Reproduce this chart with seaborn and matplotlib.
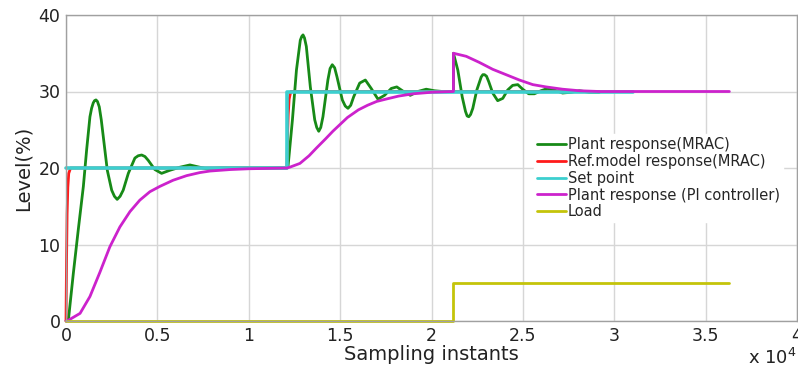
import matplotlib
matplotlib.use("Agg")
import matplotlib.pyplot as plt
import pandas as pd
import seaborn as sns

# sampling instants are in units of 1e4 (see the "x 10^4" note)
mrac_x = [0.0, 0.013, 0.040, 0.067, 0.095, 0.113, 0.131, 0.140, 0.149, 0.156, 0.164, 0.172,
          0.182, 0.193, 0.204, 0.226, 0.250, 0.265, 0.280, 0.296, 0.313, 0.341, 0.377, 0.395,
          0.414, 0.432, 0.450, 0.486, 0.523, 0.568, 0.623, 0.678, 0.732, 0.769, 0.85, 1.209,
          1.215, 1.239, 1.261, 1.282, 1.290, 1.297, 1.305, 1.315, 1.337, 1.361, 1.372, 1.383,
          1.394, 1.406, 1.433, 1.445, 1.457, 1.470, 1.483, 1.512, 1.528, 1.543, 1.558, 1.574,
          1.607, 1.638, 1.670, 1.707, 1.743, 1.780, 1.810, 1.847, 1.884, 1.925, 1.971, 2.016,
          2.06, 2.12,
          2.12, 2.144, 2.168, 2.186, 2.195, 2.204, 2.214, 2.226, 2.248, 2.272, 2.281, 2.290,
          2.301, 2.313, 2.335, 2.362, 2.390, 2.417, 2.444, 2.472, 2.499, 2.532, 2.563, 2.599,
          2.636, 2.672, 2.717, 2.763, 2.809, 2.863, 2.918]
mrac_y = [0.0, 0.1, 6.2, 11.9, 17.6, 22.4, 26.7, 27.8, 28.5, 28.8, 28.9, 28.7,
          28.0, 26.3, 24.1, 19.7, 17.1, 16.3, 15.9, 16.3, 17.1, 19.3, 21.3, 21.6,
          21.7, 21.5, 21.0, 19.8, 19.3, 19.7, 20.1, 20.4, 20.1, 19.9, 20.0, 20.0,
          20.2, 26.3, 32.8, 36.7, 37.2, 37.4, 37.0, 35.9, 30.6, 26.3, 25.3, 24.8,
          25.3, 26.7, 31.5, 33.0, 33.5, 33.1, 31.9, 28.9, 28.1, 27.8, 28.2, 29.3,
          31.1, 31.5, 30.4, 29.0, 29.5, 30.4, 30.6, 30.0, 29.5, 30.0, 30.3, 30.1,
          30.0, 30.0,
          35.0, 32.8, 29.3, 27.4, 26.8, 26.7, 27.0, 27.8, 30.2, 31.9, 32.2, 32.2,
          32.0, 31.3, 29.8, 28.8, 29.1, 30.2, 30.8, 30.9, 30.3, 29.7, 29.7, 30.1,
          30.4, 30.2, 29.8, 29.9, 30.1, 29.9, 29.9]

ref_x = [0.0, 0.003, 0.006, 0.010, 0.015, 0.025, 1.209, 1.212, 1.216, 1.221, 1.230, 2.918]
ref_y = [0.0, 8.0, 14.0, 17.5, 19.3, 20.0, 20.0, 24.0, 27.0, 29.0, 30.0, 30.0]

sp_x = [0.0, 1.209, 1.209, 3.10]
sp_y = [20.0, 20.0, 30.0, 30.0]

pi_x = [0.0, 0.013, 0.077, 0.131, 0.186, 0.240, 0.295, 0.350, 0.404, 0.459, 0.514, 0.586,
        0.660, 0.732, 0.787, 0.90, 1.0, 1.209, 1.224, 1.28, 1.33, 1.37, 1.42, 1.46, 1.50,
        1.54, 1.60, 1.65, 1.70, 1.75, 1.82, 1.90, 2.0, 2.12,
        2.12, 2.190, 2.262, 2.335, 2.408, 2.481, 2.554, 2.627, 2.717, 2.809, 2.918, 3.63]
pi_y = [0.0, 0.1, 1.0, 3.2, 6.4, 9.7, 12.3, 14.3, 15.8, 16.9, 17.6, 18.4,
        19.0, 19.4, 19.6, 19.8, 19.9, 20.0, 20.1, 20.6, 21.6, 22.6, 23.8, 24.8, 25.7,
        26.6, 27.6, 28.2, 28.7, 29.0, 29.4, 29.7, 29.9, 30.0,
        35.0, 34.6, 33.8, 32.9, 32.2, 31.5, 30.9, 30.6, 30.3, 30.1, 30.0, 30.0]

load_x = [0.0, 2.12, 2.12, 3.63]
load_y = [0.0, 0.0, 5.0, 5.0]

names = ["Plant response(MRAC)", "Ref.model response(MRAC)", "Set point",
         "Plant response (PI controller)", "Load"]
colors = ["#178a17", "#ff1a1a", "#3ccfcf", "#cc22cc", "#c4c40a"]

frames = []
for name, xs, ys in zip(names, [mrac_x, ref_x, sp_x, pi_x, load_x],
                        [mrac_y, ref_y, sp_y, pi_y, load_y]):
    frames.append(pd.DataFrame({"t": xs, "level": ys, "series": name}))
df = pd.concat(frames, ignore_index=True)

sns.set_theme(style="white")
plt.rcParams['font.family'] = ['DejaVu Sans']

fig = plt.figure(figsize=(7.98, 3.74), dpi=100)
ax = fig.add_axes([66 / 798, 53 / 374, 731 / 798, 306 / 374])

sns.lineplot(data=df, x="t", y="level", hue="series", hue_order=names,
             palette=dict(zip(names, colors)), sort=False, estimator=None,
             linewidth=2, ax=ax, clip_on=False)
# set point a bit wider so the ref model line hides under it
ax.lines[2].set_linewidth(2.6)

ax.set_xlim(0, 4)
ax.set_ylim(0, 40)
ax.set_xticks([0, 0.5, 1, 1.5, 2, 2.5, 3, 3.5, 4])
ax.set_xticklabels(["0", "0.5", "1", "1.5", "2", "2.5", "3", "3.5", "4"])
ax.set_yticks([0, 10, 20, 30, 40])
ax.grid(True, color="#d6d6d6", linewidth=1)
ax.set_axisbelow(True)
for s in ax.spines.values():
    s.set_color("#a0a0a0")
    s.set_linewidth(1)
ax.tick_params(axis="both", length=0, labelsize=12.5, colors="#222222", pad=4)

ax.set_xlabel("Sampling instants", fontsize=14, color="#222222", labelpad=0)
ax.set_ylabel("Level(%)", fontsize=14, color="#222222", labelpad=4)

leg = ax.legend(loc="upper left", bbox_to_anchor=(0.64, 0.61), fontsize=10.5,
                frameon=True, facecolor="white", edgecolor="white", framealpha=1,
                labelspacing=0.12, handlelength=2.0, handletextpad=0.15,
                borderpad=0.2, borderaxespad=0)
for line in leg.get_lines():
    line.set_linewidth(2)

fig.text(0.998, 0.015, r"x 10$^{4}$", ha="right", va="bottom", fontsize=13, color="#222222")

fig.savefig("out.png", dpi=100)
